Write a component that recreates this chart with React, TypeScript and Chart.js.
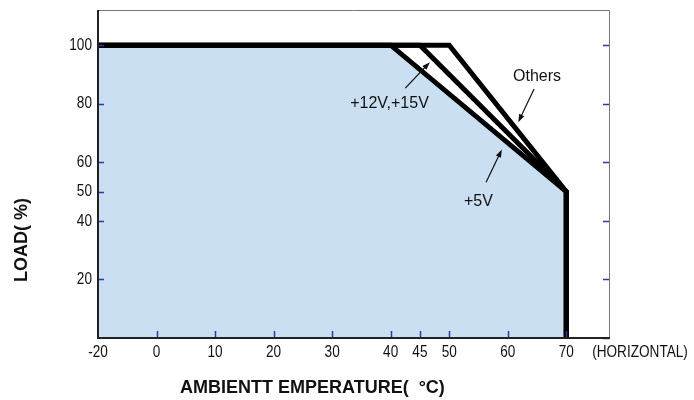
import React, { useEffect, useRef } from "react";
import { Chart, registerables } from "chart.js";
Chart.register(...registerables);

// ---- data ----
const seriesNames = ["+5V", "+12V,+15V", "Others"];
const temp5V = [-20, 40, 70, 70];
const load5V = [100, 100, 50, 0];
const temp12V = [-20, 45, 70, 70];
const load12V = [100, 100, 50, 0];
const tempOthers = [-20, 50, 70, 70];
const loadOthers = [100, 100, 50, 0];

const xTickTemps = [-20, 0, 10, 20, 30, 40, 45, 50, 60, 70];
const xTickLabels = ["-20", "0", "10", "20", "30", "40", "45", "50", "60", "70"];
const yTickValues = [20, 40, 50, 60, 80, 100];
const yTickLabels = ["20", "40", "50", "60", "80", "100"];
const xMarkTemps = [0, 10, 20, 30, 40, 45, 50, 60, 70];
const yMarkLeft = [20, 40, 50, 60, 80, 100];
const yMarkRight = [0, 20, 40, 60, 80, 100];

const annotationTexts = ["Others", "+12V,+15V", "+5V"];
const annotationTextTemp = [65.0, 39.8, 55.0];
const annotationTextLoad = [89.1, 80.0, 46.7];
const arrowFromTemp = [64.5, 42.5, 56.3];
const arrowFromLoad = [85.0, 85.3, 53.2];
const arrowToTemp = [61.8, 46.7, 59.0];
const arrowToLoad = [73.7, 94.2, 64.4];

const xAxisTitle = "AMBIENTT EMPERATURE(  °C)";
const yAxisTitle = "LOAD( %)";
const xAxisNote = "(HORIZONTAL)";

const X_MAX = 77.3;
const Y_MAX = 112;

// the axis compresses the segment below 0 °C (−20 sits where −10 would)
const toAxis = (t: number) => (t < 0 ? t / 2 : t);

const FILL = "#cbdff2";
const TICK_BLUE = "#2b3a9e";
const SANS = "'Liberation Sans', Arial, sans-serif";
const NARROW_SCALE = 0.8;

const pts = (ts: number[], ls: number[]) => ts.map((t, i) => ({ x: toAxis(t), y: ls[i] }));

function narrowText(ctx: CanvasRenderingContext2D, txt: string, x: number, y: number, align: CanvasTextAlign) {
  ctx.save();
  ctx.translate(x, y);
  ctx.scale(NARROW_SCALE, 1);
  ctx.textAlign = align;
  ctx.fillText(txt, 0, 0);
  ctx.restore();
}

const decorPlugin = {
  id: "decor",
  afterDatasetsDraw(chart: any) {
    const { ctx, chartArea: a, scales } = chart;
    const xs = scales.x;
    const ys = scales.y;
    ctx.save();
    // tick marks (inward, blue)
    ctx.strokeStyle = TICK_BLUE;
    ctx.lineWidth = 1.5;
    ctx.beginPath();
    yMarkLeft.forEach((v) => {
      const py = Math.round(ys.getPixelForValue(v)) + 0.5;
      ctx.moveTo(a.left, py);
      ctx.lineTo(a.left + 6, py);
    });
    yMarkRight.forEach((v) => {
      const py = Math.round(ys.getPixelForValue(v)) + 0.5;
      ctx.moveTo(a.right, py);
      ctx.lineTo(a.right - 6, py);
    });
    xMarkTemps.forEach((t) => {
      const px = Math.round(xs.getPixelForValue(toAxis(t))) + 0.5;
      ctx.moveTo(px, a.bottom);
      ctx.lineTo(px, a.bottom - 7);
    });
    ctx.stroke();

    // frame
    ctx.strokeStyle = "#777";
    ctx.lineWidth = 1;
    ctx.beginPath();
    ctx.moveTo(a.left, a.top + 0.5);
    ctx.lineTo(a.right + 0.5, a.top + 0.5);
    ctx.lineTo(a.right + 0.5, a.bottom);
    ctx.stroke();
    ctx.strokeStyle = "#222";
    ctx.lineWidth = 2;
    ctx.beginPath();
    ctx.moveTo(a.left, a.top);
    ctx.lineTo(a.left, a.bottom);
    ctx.lineTo(a.right + 1, a.bottom);
    ctx.stroke();

    // tick labels (condensed, from the scales' own ticks)
    ctx.fillStyle = "#111";
    ctx.font = `17px ${SANS}`;
    ctx.textBaseline = "middle";
    ys.ticks.forEach((tk: any, i: number) => {
      narrowText(ctx, yTickLabels[i], a.left - 6, ys.getPixelForValue(tk.value), "right");
    });
    xs.ticks.forEach((tk: any, i: number) => {
      narrowText(ctx, xTickLabels[i], xs.getPixelForValue(tk.value), a.bottom + 14, "center");
    });
    narrowText(ctx, xAxisNote, 640, a.bottom + 14, "center");

    // annotations
    ctx.strokeStyle = "#111";
    ctx.font = `16px ${SANS}`;
    ctx.textAlign = "center";
    ctx.textBaseline = "middle";
    annotationTexts.forEach((txt, i) => {
      ctx.fillText(txt, xs.getPixelForValue(annotationTextTemp[i]), ys.getPixelForValue(annotationTextLoad[i]));
      const x1 = xs.getPixelForValue(arrowFromTemp[i]);
      const y1 = ys.getPixelForValue(arrowFromLoad[i]);
      const x2 = xs.getPixelForValue(arrowToTemp[i]);
      const y2 = ys.getPixelForValue(arrowToLoad[i]);
      const ang = Math.atan2(y2 - y1, x2 - x1);
      ctx.lineWidth = 1.2;
      ctx.beginPath();
      ctx.moveTo(x1, y1);
      ctx.lineTo(x2 - 6 * Math.cos(ang), y2 - 6 * Math.sin(ang));
      ctx.stroke();
      ctx.beginPath();
      ctx.moveTo(x2, y2);
      ctx.lineTo(x2 - 8 * Math.cos(ang) + 2.8 * Math.sin(ang), y2 - 8 * Math.sin(ang) - 2.8 * Math.cos(ang));
      ctx.lineTo(x2 - 8 * Math.cos(ang) - 2.8 * Math.sin(ang), y2 - 8 * Math.sin(ang) + 2.8 * Math.cos(ang));
      ctx.closePath();
      ctx.fill();
    });

    // axis titles
    ctx.font = `bold 18px ${SANS}`;
    ctx.textAlign = "left";
    ctx.fillText(xAxisTitle, 180, 388);
    ctx.save();
    ctx.translate(22, 240);
    ctx.rotate(-Math.PI / 2);
    ctx.textAlign = "center";
    ctx.fillText(yAxisTitle, 0, 0);
    ctx.restore();

    ctx.restore();
  },
};

export default function App() {
  const ref = useRef<HTMLCanvasElement | null>(null);
  useEffect(() => {
    if (!ref.current) return;
    const lineBase = {
      borderColor: "#000",
      borderWidth: 5,
      pointRadius: 0,
      tension: 0,
      borderJoinStyle: "miter" as const,
      borderCapStyle: "butt" as const,
      clip: 0,
    };
    const chart = new Chart(ref.current, {
      type: "line",
      data: {
        datasets: [
          { ...lineBase, label: seriesNames[0], data: pts(temp5V, load5V), fill: "origin", backgroundColor: FILL },
          { ...lineBase, label: seriesNames[1], data: pts(temp12V, load12V), fill: false },
          { ...lineBase, label: seriesNames[2], data: pts(tempOthers, loadOthers), fill: false },
        ],
      },
      options: {
        responsive: false,
        animation: false,
        layout: { padding: { left: 0, right: 85, top: 10, bottom: 0 } },
        plugins: {
          legend: { display: false },
          tooltip: { enabled: false },
          filler: { drawTime: "beforeDatasetsDraw" },
        },
        scales: {
          x: {
            type: "linear",
            min: toAxis(-20),
            max: X_MAX,
            grid: { display: false, drawTicks: false },
            border: { display: false },
            afterBuildTicks: (s: any) => {
              s.ticks = xTickTemps.map((t) => ({ value: toAxis(t) }));
            },
            afterFit: (s: any) => {
              s.height = 62;
              s.paddingLeft = 0;
              s.paddingRight = 0;
            },
            ticks: { display: false, autoSkip: false },
          },
          y: {
            type: "linear",
            min: 0,
            max: Y_MAX,
            grid: { display: false, drawTicks: false },
            border: { display: false },
            afterBuildTicks: (s: any) => {
              s.ticks = yTickValues.map((v) => ({ value: v }));
            },
            afterFit: (s: any) => {
              s.width = 98;
              s.paddingTop = 0;
              s.paddingBottom = 0;
            },
            ticks: { display: false, autoSkip: false },
          },
        },
      },
      plugins: [decorPlugin],
    });
    return () => chart.destroy();
  }, []);
  return (
    <div style={{ position: "absolute", left: 0, top: 0, width: 694, height: 400, background: "#fff" }}>
      <canvas ref={ref} width={694} height={400} style={{ display: "block" }} />
    </div>
  );
}
